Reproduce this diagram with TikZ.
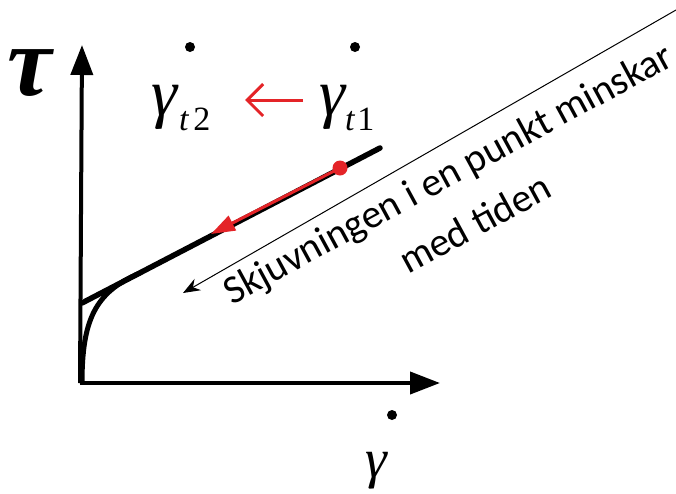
\documentclass[tikz,border=0pt]{standalone}
\usepackage{fontspec}
\setmainfont{Liberation Serif}
\newfontfamily\calib{Carlito}
\usetikzlibrary{arrows.meta}
\definecolor{myred}{RGB}{228,36,40}
\tikzset{
  axis/.style={line width=4pt, -{Triangle[length=30pt,width=22pt]}},
  curveline/.style={line width=5.5pt, line cap=round},
  dotmark/.style={circle, fill=black, inner sep=0pt, minimum size=10pt},
  redarrow/.style={myred, line width=3pt, -{Triangle[length=24pt,width=16pt]}},
  thinarrow/.style={line width=1pt, -{Stealth[length=17pt,width=13pt]}},
  lbl/.style={inner sep=0pt, outer sep=0pt}
}
\begin{document}
\begin{tikzpicture}[x=1pt,y=1pt]
\useasboundingbox (0,0) rectangle (676,-493);
% axes
\coordinate (O) at (82,-383);
\coordinate (ytip) at (82,-45);
\coordinate (xtip) at (440,-383);
\draw[axis] (80,-383) -- (ytip);
\draw[axis] (80,-383) -- (xtip);
% tau
\node[lbl, anchor=base west] (tau) at (8,-95) {\fontsize{100}{100}\selectfont\bfseries\itshape τ};
% curves
\coordinate (A) at (82,-303);
\coordinate (B) at (380,-148);
\coordinate (C) at (82,-383);
\coordinate (D) at (140,-273);
\draw[curveline] (A) -- (B);
\draw[line width=5pt] (C) .. controls (82,-320) and (95,-292) .. (D);
% red point and arrow
\node[circle, fill=myred, inner sep=0pt, minimum size=15pt] (rdot) at (340,-168) {};
\coordinate (rtip) at (211,-234);
\draw[redarrow] (rdot.center) -- (rtip);
% thin arrow
\coordinate (ts) at (676,-10);
\coordinate (te) at (183,-293);
\draw[thinarrow] (ts) -- (te);
% text
\node[lbl, rotate=28.5, align=center, font={\calib\fontsize{40}{57}\selectfont}] (txt) at (461,-198)
  {Skjuvningen i en punkt minskar\\ med tiden};
% gammas
\node[dotmark] (d2) at (190,-47) {};
\node[dotmark] (d1) at (355,-47) {};
\node[lbl, anchor=base west] (g2) at (151,-115)
  {\fontsize{66}{66}\selectfont\itshape γ\hspace{2pt}\raisebox{-15pt}{\fontsize{34}{34}\selectfont t\hspace{5pt}\upshape 2}};
\node[lbl, anchor=base west] (g1) at (319,-115)
  {\fontsize{66}{66}\selectfont\itshape γ\hspace{0pt}\raisebox{-15pt}{\fontsize{34}{34}\selectfont t\hspace{3pt}\upshape 1}};
\coordinate (ra) at (303,-100);
\coordinate (rb) at (245,-100);
\draw[myred, line width=3pt, -{Straight Barb[length=16pt,width=32pt]}] (ra) -- (rb);
% gamma on x axis
\node[dotmark] (d0) at (392,-415) {};
\node[lbl, anchor=base west] (g0) at (365,-477) {\fontsize{55}{55}\selectfont\itshape γ};
\end{tikzpicture}
\end{document}
